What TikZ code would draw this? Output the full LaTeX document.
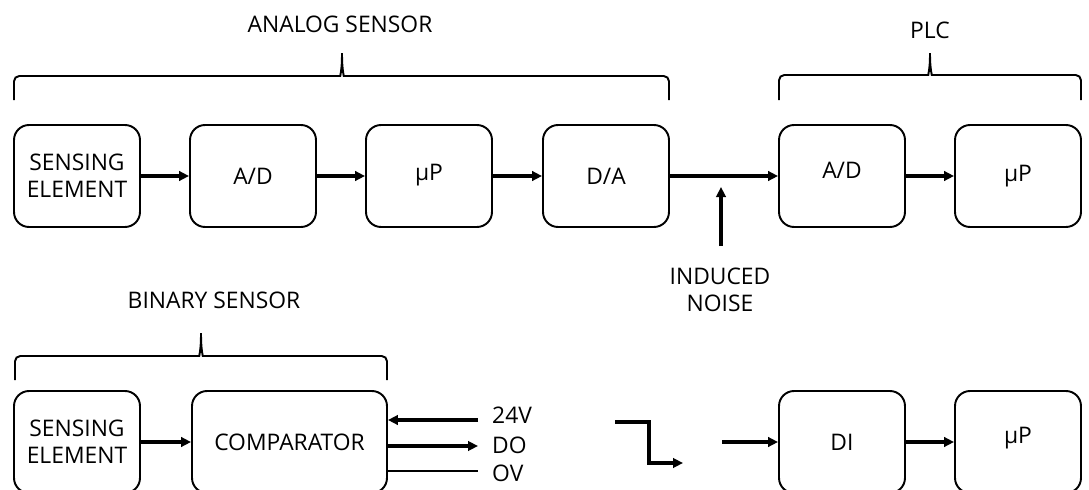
\documentclass[tikz,border=0pt]{standalone}
\usepackage{fontspec}
\setmainfont{Open Sans}
\usetikzlibrary{arrows.meta}

\begin{document}
\begin{tikzpicture}[x=0.02cm,y=-0.02cm,
    font=\fontsize{13}{15.4}\selectfont,
    block/.style={draw,line width=1.1pt,rounded corners=0.3cm,align=center,
      minimum width=2.52cm,minimum height=2.04cm,inner sep=0pt},
    sig/.style={line width=2pt,-{Triangle[length=2mm,width=1.9mm]}},
    brace/.style={line width=1.1pt,rounded corners=3pt}]
  \useasboundingbox (0,0) rectangle (1089,490);
  % analog sensor chain and PLC
  \node[block] (se1) at (77,176) {SENSING\\ELEMENT};
  \node[block] (ad1) at (253,176) {A/D};
  \node[block] (up1) at (429,176) {\raisebox{4pt}{µP}};
  \node[block] (da) at (606,176) {D/A};
  \node[block] (ad2) at (842,176) {\raisebox{6pt}{A/D}};
  \node[block] (up2) at (1018,176) {µP};
  \draw[sig] (se1) -- (ad1);
  \draw[sig] (ad1) -- (up1);
  \draw[sig] (up1) -- (da);
  \draw[sig] (da) -- (ad2);
  \draw[sig] (ad2) -- (up2);
  % induced noise
  \coordinate (nz) at (721,246);
  \coordinate (nztip) at (721,187);
  \draw[sig] (nz) -- (nztip);
  \node[align=center] (nzlbl) at (720,290) {INDUCED\\NOISE};
  % braces and group labels
  \draw[brace] (14,100) -- (14,76) -- (335,76) .. controls (340,76) and (342,70) .. (342,50)
    .. controls (342,70) and (344,76) .. (349,76) -- (669,76) -- (669,100);
  \draw[brace] (779,100) -- (779,75) -- (923,75) .. controls (928,75) and (930,69) .. (930,50)
    .. controls (930,69) and (932,75) .. (937,75) -- (1081,75) -- (1081,100);
  \draw[brace] (15,380) -- (15,356) -- (194,356) .. controls (199,356) and (201,350) .. (201,330)
    .. controls (201,350) and (203,356) .. (208,356) -- (387,356) -- (387,380);
  \node (analog) at (340,24) {ANALOG SENSOR};
  \node (plc) at (930,30) {PLC};
  \node (binary) at (214,300) {BINARY SENSOR};
  % binary sensor chain
  \node[block] (se2) at (77,442) {SENSING\\ELEMENT};
  \node[block,minimum width=3.9cm] (cmp) at (289.5,442) {COMPARATOR};
  \draw[sig] (se2) -- (cmp);
  \coordinate (v24) at (478,420);
  \coordinate (dout) at (478,446);
  \coordinate (v0) at (478,471);
  \draw[sig] (v24) -- (v24 -| cmp.east);
  \draw[sig] (dout -| cmp.east) -- (dout);
  \draw[line width=1.1pt] (v0 -| cmp.east) -- (v0);
  \node[anchor=west] (l24) at (486,415) {24V};
  \node[anchor=west] (ldo) at (486,445) {DO};
  \node[anchor=west] (lov) at (486,473) {OV};
  % switching edge
  \draw[sig] (615,422) -- (649,422) -- (649,463) -- (683,463);
  % digital input of PLC
  \node[block] (di) at (842,442) {DI};
  \node[block] (up3) at (1018,442) {\raisebox{8pt}{µP}};
  \coordinate (din) at (722,442);
  \draw[sig] (din) -- (di);
  \draw[sig] (di) -- (up3);
\end{tikzpicture}
\end{document}
